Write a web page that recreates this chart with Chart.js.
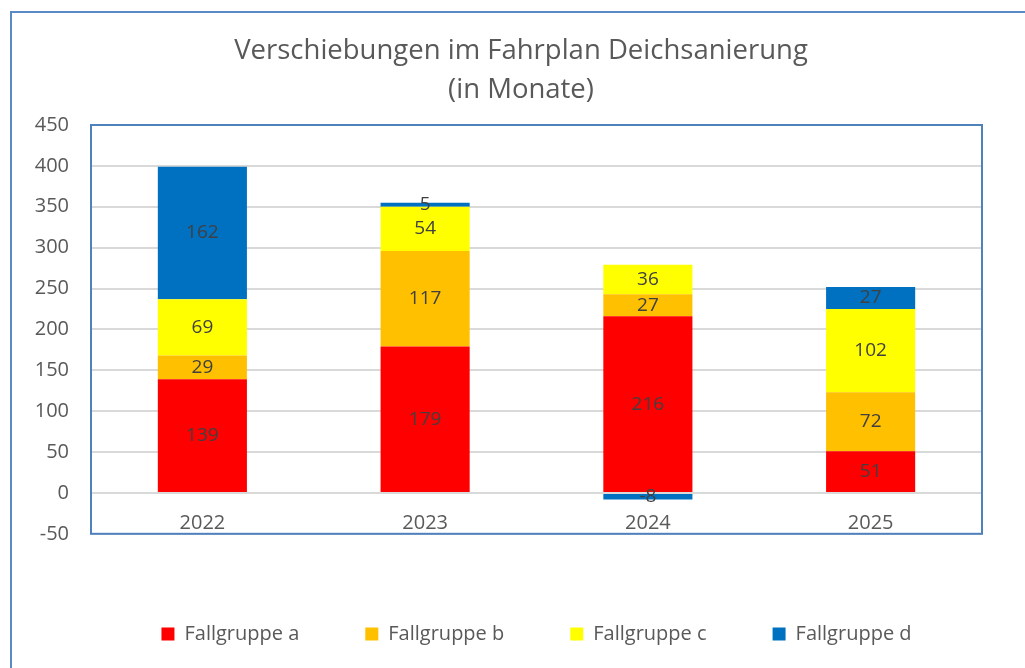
<!DOCTYPE html>
<html>
<head>
<meta charset="utf-8">
<script src="https://cdn.jsdelivr.net/npm/chart.js@4/dist/chart.umd.min.js"></script>
<style>
  html, body { margin: 0; padding: 0; background: #fff; }
  #wrap { width: 1025px; height: 668px; }
</style>
</head>
<body>
<div id="wrap"><canvas id="chart" width="1025" height="668"></canvas></div>
<script>
// Daten
const years = ['2022', '2023', '2024', '2025'];
const gruppeA = [139, 179, 216, 51];
const gruppeB = [29, 117, 27, 72];
const gruppeC = [69, 54, 36, 102];
const gruppeD = [162, 5, -8, 27];
const yTicks = [-50, 0, 50, 100, 150, 200, 250, 300, 350, 400, 450];

const font = "'Open Sans', 'Noto Sans', sans-serif";

// Rahmen um Diagramm und Zeichnungsfläche
const framePlugin = {
  id: 'frame',
  beforeDraw(chart) {
    const ctx = chart.ctx;
    ctx.save();
    ctx.fillStyle = '#fff';
    ctx.fillRect(0, 0, chart.width, chart.height);
    ctx.strokeStyle = '#5b89c6';
    ctx.lineWidth = 2;
    ctx.strokeRect(11, 12, 2000, 2000);
    ctx.restore();
  },
  afterDraw(chart) {
    const a = chart.chartArea;
    const ctx = chart.ctx;
    ctx.save();
    ctx.strokeStyle = '#4f81bd';
    ctx.lineWidth = 2;
    ctx.strokeRect(a.left, a.top, a.right - a.left, a.bottom - a.top);
    ctx.restore();
  }
};

// Werte in den Balken
const labelPlugin = {
  id: 'barLabels',
  afterDatasetsDraw(chart) {
    const ctx = chart.ctx;
    ctx.save();
    ctx.font = '19px ' + font;
    ctx.fillStyle = '#404040';
    ctx.textAlign = 'center';
    ctx.textBaseline = 'middle';
    chart.data.datasets.forEach((ds, i) => {
      const meta = chart.getDatasetMeta(i);
      meta.data.forEach((bar, j) => {
        const v = ds.data[j];
        ctx.fillText(String(v), bar.x, (bar.y + bar.base) / 2);
      });
    });
    ctx.restore();
  }
};

new Chart(document.getElementById('chart').getContext('2d'), {
  type: 'bar',
  data: {
    labels: years,
    datasets: [
      { label: 'Fallgruppe a', data: gruppeA, backgroundColor: '#ff0000' },
      { label: 'Fallgruppe b', data: gruppeB, backgroundColor: '#ffc000' },
      { label: 'Fallgruppe c', data: gruppeC, backgroundColor: '#ffff00' },
      { label: 'Fallgruppe d', data: gruppeD, backgroundColor: '#0070c0' }
    ]
  },
  plugins: [framePlugin, labelPlugin],
  options: {
    responsive: false,
    animation: false,
    layout: { padding: { left: 20, right: 3, top: 0, bottom: 14 } },
    datasets: { bar: { barPercentage: 0.4, categoryPercentage: 1 } },
    plugins: {
      title: {
        display: true,
        text: ['Verschiebungen im Fahrplan Deichsanierung', '(in Monate)'],
        color: '#595959',
        font: { family: font, size: 27.5, weight: 'normal', lineHeight: 1.4 },
        padding: { top: 32, bottom: 16 }
      },
      legend: {
        position: 'bottom',
        fullSize: false,
        title: { display: true, text: '', padding: { top: 23, bottom: 0 }, font: { size: 1 } },
        labels: {
          boxWidth: 13,
          boxHeight: 13,
          padding: 66,
          color: '#595959',
          font: { family: font, size: 20 }
        }
      },
      tooltip: { enabled: false }
    },
    scales: {
      x: {
        stacked: true,
        position: { y: 0 },
        grid: { display: false, drawTicks: false },
        border: { display: false },
        ticks: { color: '#595959', font: { family: font, size: 20 }, padding: 18 }
      },
      y: {
        stacked: true,
        min: yTicks[0],
        max: yTicks[yTicks.length - 1],
        afterBuildTicks(axis) { axis.ticks = yTicks.map(v => ({ value: v })); },
        afterFit(axis) { axis.width = 71; },
        grid: { color: '#d9d9d9', lineWidth: 2, drawTicks: false },
        border: { display: false },
        ticks: { color: '#595959', font: { family: font, size: 20 }, padding: 22 }
      },
      // leerer rechter Rand, damit Titel und Legende wie im Original sitzen
      yRand: {
        position: 'right',
        grid: { display: false, drawTicks: false },
        border: { display: false },
        ticks: { display: false },
        afterFit(axis) { axis.width = 40; }
      }
    }
  }
});
</script>
</body>
</html>
